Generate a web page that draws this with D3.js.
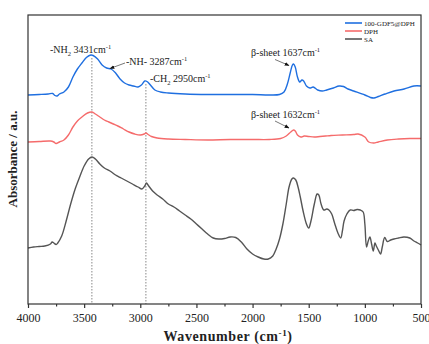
<!DOCTYPE html>
<html>
<head>
<meta charset="utf-8">
<script src="https://cdn.jsdelivr.net/npm/d3@7"></script>
<style>
  body { margin: 0; background: #fff; }
  text { font-family: "Liberation Serif", "DejaVu Serif", serif; fill: #222; }
</style>
</head>
<body>
<svg id="chart" width="429" height="344"></svg>
<script>
// wavenumber (cm-1) / absorbance (a.u., offset stacked)
var gdfW = [4000,3900,3820,3780,3760,3740,3720,3680,3640,3600,3560,3520,3480,3440,3420,3380,3340,3300,3260,3220,3180,3140,3100,3060,3020,2990,2960,2940,2910,2870,2820,2750,2600,2400,2200,2000,1850,1760,1720,1690,1665,1645,1635,1620,1600,1580,1560,1545,1520,1490,1460,1420,1380,1340,1280,1230,1190,1150,1100,1000,950,919,880,820,740,650,563,500];
var gdfA = [209,209.5,210,210.5,208.5,208,210,212,217,227,235,241,246.5,249,248.5,245,239,236,235,231,225,221,219,218,217,219,223,222.5,219,214,212,211,210,209.5,209.5,209.5,209,209.5,212,220,231,239,240,237,227,222,224,223,218,216,217,214,213,214,216,218,217.5,215,213,209,206.5,206,207.5,210,213,215,218,218];

var dphW = [4000,3900,3800,3770,3750,3720,3680,3640,3600,3560,3520,3470,3430,3400,3360,3320,3280,3240,3200,3150,3100,3050,3000,2965,2950,2930,2900,2850,2750,2600,2400,2200,2000,1850,1750,1700,1660,1635,1620,1600,1570,1540,1500,1450,1400,1350,1300,1200,1100,1060,1000,965,920,880,800,700,600,500];
var dphA = [162,162.5,163,162,160.5,162,164,169,177,183,187,191,192,190,187,184,182,180,178,175,172,170,169,170,171,169.5,167.5,166,165,164.5,164,164.5,164.5,164.5,165.5,168,172,174,173,169,167,168,167.5,167,167.5,168,168.5,169,169.5,170,167,162,161,162,164,165,165.5,165.5];

var saW = [4000,3950,3900,3850,3800,3785,3770,3750,3735,3700,3660,3620,3580,3540,3500,3460,3430,3400,3360,3320,3270,3220,3170,3120,3070,3020,2985,2960,2945,2925,2890,2850,2800,2750,2700,2650,2600,2550,2500,2450,2400,2350,2300,2250,2200,2150,2100,2050,2000,1950,1900,1860,1820,1790,1760,1730,1700,1675,1650,1635,1615,1595,1575,1550,1520,1500,1480,1450,1425,1410,1390,1365,1340,1320,1295,1270,1240,1215,1200,1185,1160,1130,1100,1070,1040,1015,1000,985,970,955,940,925,910,898,880,860,845,823,800,770,741,700,652,600,563,530,500];
var saA = [56,57,57.5,58,60,62,61,59.5,61,68,83,100,115,127,138,145,147,145,140,136,133,129,126,123,120,117,115,118,121,118,113,109,105,100,97,93,89,85,80,75,70,66,65,65.5,67,66.5,62,55,50,47,45,45,48,55,65,80,100,117,125,126,124,117,107,93,80,76,83,100,110,109,100,94,95,94,90,81,71,66,73,83,90,94,93.5,94.5,94,92,80,57,63,67,60,53,61,58,54,50,57,66.5,62.5,64,65,66,67,66,63,61,59];

var seriesNames = ["100-GDF5@DPH", "DPH", "SA"];
var seriesColors = ["#1f6fe0", "#f56b6b", "#555555"];
var xTicks = [4000, 3500, 3000, 2500, 2000, 1500, 1000, 500];
var xMinor = [3750, 3250, 2750, 2250, 1750, 1250, 750];
var markers = [3431, 2950];

var svg = d3.select("#chart");
var m = { left: 28, top: 15, right: 421, bottom: 304 };

var x = d3.scaleLinear().domain([4000, 500]).range([m.left, m.right]);
var y = d3.scaleLinear().domain([0, 289]).range([m.bottom, m.top]);

var series = [
  { name: seriesNames[0], color: seriesColors[0], w: gdfW, a: gdfA },
  { name: seriesNames[1], color: seriesColors[1], w: dphW, a: dphA },
  { name: seriesNames[2], color: seriesColors[2], w: saW, a: saA }
];

var line = d3.line()
  .x(function(d) { return x(d[0]); })
  .y(function(d) { return y(d[1]); })
  .curve(d3.curveCatmullRom.alpha(0.5));

// dotted marker lines
svg.selectAll(".marker")
  .data(markers)
  .enter()
  .append("line")
  .attr("x1", function(d) { return x(d); })
  .attr("x2", function(d) { return x(d); })
  .attr("y1", function(d, i) { return i == 0 ? 58 : 84; })
  .attr("y2", m.bottom)
  .attr("stroke", "#888")
  .attr("stroke-width", 1)
  .attr("stroke-dasharray", "1.5,1.5");

// curves, SA drawn first
series.slice().reverse().forEach(function(s) {
  var pts = s.w.map(function(w, i) { return [w, s.a[i]]; });
  svg.append("path")
    .attr("d", line(pts))
    .attr("fill", "none")
    .attr("stroke", s.color)
    .attr("stroke-width", 1.4);
});

// frame
svg.append("rect")
  .attr("x", m.left).attr("y", m.top)
  .attr("width", m.right - m.left).attr("height", m.bottom - m.top)
  .attr("fill", "none").attr("stroke", "#333").attr("stroke-width", 1.2);

// x axis
var xAxis = svg.append("g")
  .attr("transform", "translate(0," + m.bottom + ")")
  .call(d3.axisBottom(x).tickValues(xTicks).tickSize(4).tickFormat(d3.format("d")));
xAxis.select(".domain").remove();
xAxis.selectAll("line").attr("stroke", "#333").attr("stroke-width", 1.2);
xAxis.selectAll("text")
  .attr("dy", "0.71em")
  .attr("y", 9)
  .style("font-size", "12px")
  .style("font-family", "Liberation Serif, serif")
  .attr("fill", "#222");

var xMinorAxis = svg.append("g")
  .attr("transform", "translate(0," + m.bottom + ")")
  .call(d3.axisBottom(x).tickValues(xMinor).tickSize(2.5).tickFormat(""));
xMinorAxis.select(".domain").remove();
xMinorAxis.selectAll("line").attr("stroke", "#333").attr("stroke-width", 1.2);

// axis titles
var xt = svg.append("text")
  .attr("x", 228).attr("y", 341)
  .attr("text-anchor", "middle")
  .style("font-size", "14px").style("font-weight", "bold")
  .style("letter-spacing", "0.6px");
xt.append("tspan").text("Wavenumber (cm");
xt.append("tspan").attr("dy", -5).style("font-size", "9px").text("-1");
xt.append("tspan").attr("dy", 5).text(")");

svg.append("text")
  .attr("transform", "translate(17,159) rotate(-90)")
  .attr("text-anchor", "middle")
  .style("font-size", "13px").style("font-weight", "bold")
  .text("Absorbance / a.u.");

// annotations
function label(px, py, main, sub, rest, sup) {
  var t = svg.append("text").attr("x", px).attr("y", py).style("font-size", "10px");
  t.append("tspan").text(main);
  if (sub) t.append("tspan").attr("dy", 2.5).style("font-size", "6.5px").text(sub);
  t.append("tspan").attr("dy", sub ? -2.5 : 0).text(rest);
  t.append("tspan").attr("dy", -4).style("font-size", "6.5px").text(sup);
}
label(50, 53, "-NH", "2", " 3431cm", "-1");
label(126, 65, "-NH- 3287cm", null, "", "-1");
label(150, 82, "-CH", "2", " 2950cm", "-1");
label(251, 56, "\u03b2-sheet 1637cm", null, "", "-1");
label(251, 118, "\u03b2-sheet 1632cm", null, "", "-1");

svg.append("defs").append("marker")
  .attr("id", "ah").attr("viewBox", "0 0 10 10")
  .attr("refX", 9).attr("refY", 5)
  .attr("markerWidth", 6).attr("markerHeight", 6)
  .attr("orient", "auto")
  .append("path").attr("d", "M0,1 L10,5 L0,9 z").attr("fill", "#111");

var arrows = [[125, 63, 110, 68.5], [275, 59.5, 289, 65.5], [275, 121, 289, 128]];
svg.selectAll(".arrow")
  .data(arrows)
  .enter()
  .append("line")
  .attr("x1", function(d) { return d[0]; }).attr("y1", function(d) { return d[1]; })
  .attr("x2", function(d) { return d[2]; }).attr("y2", function(d) { return d[3]; })
  .attr("stroke", "#555").attr("stroke-width", 0.8)
  .attr("marker-end", "url(#ah)");

// legend
var lg = svg.append("g");
series.forEach(function(s, i) {
  var ly = 23 + i * 8;
  lg.append("line")
    .attr("x1", 345).attr("x2", 362).attr("y1", ly).attr("y2", ly)
    .attr("stroke", s.color).attr("stroke-width", 1.6);
  lg.append("text")
    .attr("x", 364).attr("y", ly + 2.5)
    .style("font-size", "7px")
    .text(s.name);
});
</script>
</body>
</html>
